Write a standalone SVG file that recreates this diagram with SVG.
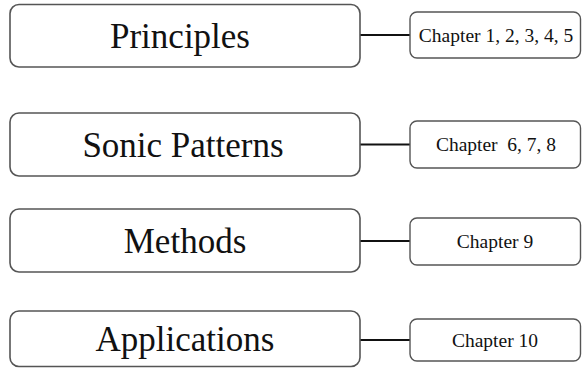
<svg xmlns="http://www.w3.org/2000/svg" width="582" height="368" viewBox="0 0 582 368">
<style>
.big{fill:#fff;stroke:#555;stroke-width:1.6}
.small{fill:#fff;stroke:#555;stroke-width:1.4}
.bt{font-family:"Liberation Serif","Times New Roman",serif;font-size:35px;fill:#111;text-anchor:middle}
.st{font-family:"Liberation Serif","Times New Roman",serif;font-size:19.5px;fill:#111;text-anchor:middle}
.conn line{stroke:#111;stroke-width:2}
</style>
<rect width="582" height="368" fill="#fff"/>
<g class="conn">
<line x1="360" y1="35" x2="410" y2="35"/>
<line x1="360" y1="144.5" x2="410" y2="144.5"/>
<line x1="360" y1="241" x2="410" y2="241"/>
<line x1="360" y1="340" x2="410" y2="340"/>
</g>
<g id="principles"><rect class="big" x="10" y="4.5" width="350" height="62.5" rx="9"/><text class="bt" x="180" y="47.5">Principles</text></g>
<g id="ch1"><rect class="small" x="410" y="12" width="170.5" height="46" rx="7"/><text class="st" x="496" y="41.5" xml:space="preserve">Chapter 1, 2, 3, 4, 5</text></g>
<g id="sonic"><rect class="big" x="10" y="113" width="350" height="63" rx="9"/><text class="bt" x="183" y="156.5">Sonic Patterns</text></g>
<g id="ch2"><rect class="small" x="410" y="121" width="170.5" height="47" rx="7"/><text class="st" x="496" y="151" xml:space="preserve">Chapter  6, 7, 8</text></g>
<g id="methods"><rect class="big" x="10" y="209" width="350" height="63" rx="9"/><text class="bt" x="185" y="252.5">Methods</text></g>
<g id="ch3"><rect class="small" x="410" y="218" width="170.5" height="47" rx="7"/><text class="st" x="495" y="248">Chapter 9</text></g>
<g id="applications"><rect class="big" x="10" y="311" width="350" height="55.5" rx="9"/><text class="bt" x="185" y="351">Applications</text></g>
<g id="ch4"><rect class="small" x="410" y="319" width="170.5" height="42" rx="7"/><text class="st" x="495" y="346.5">Chapter 10</text></g>
</svg>
